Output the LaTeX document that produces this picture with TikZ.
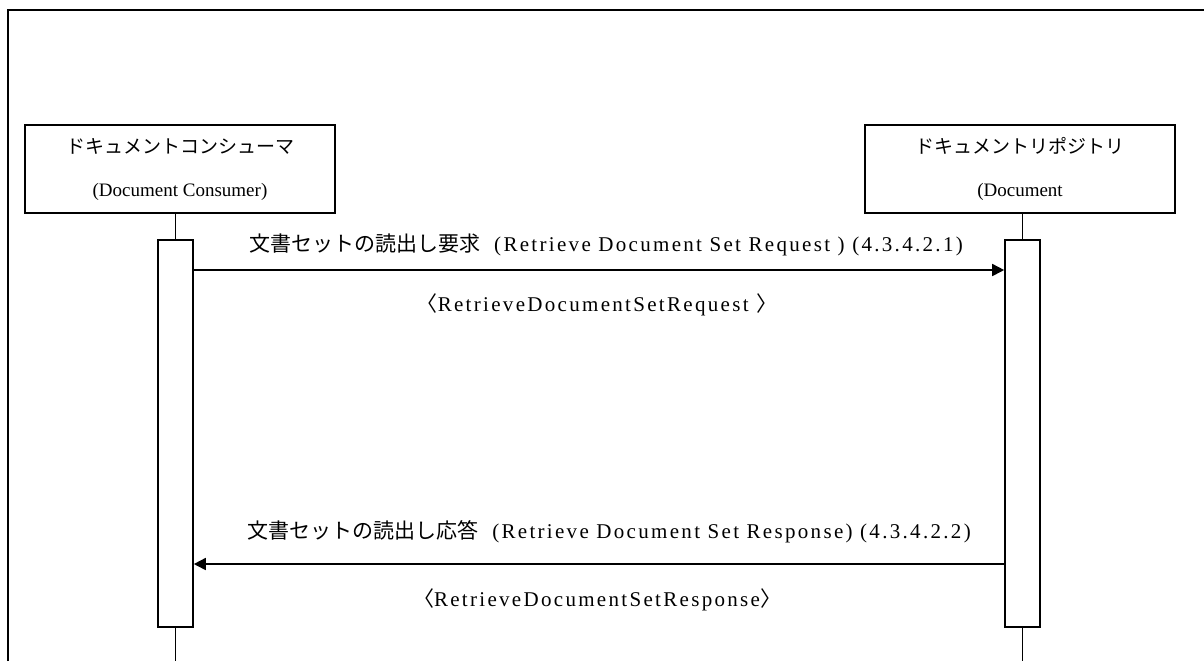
\documentclass[tikz,border=0pt]{standalone}
\usepackage{fontspec}
\setmainfont{Liberation Serif}
\newfontfamily\jp{Noto Sans CJK JP}
\newfontfamily\msgfont[LetterSpace=11]{Liberation Serif}
\usetikzlibrary{arrows.meta,positioning}

\begin{document}
\begin{tikzpicture}[x=0.5pt,y=-0.5pt,
    actor/.style={draw, line width=1pt, minimum width=155pt, minimum height=44pt,
        align=center, inner sep=0pt, font=\fontsize{9.5}{21.5}\selectfont},
    activation/.style={draw, line width=0.8pt, minimum width=17.5pt,
        minimum height=193.5pt, inner sep=0pt},
    msg/.style={-{Triangle[length=6pt,width=6pt]}, line width=0.8pt},
    msglabel/.style={font=\fontsize{10.5}{12}\selectfont\msgfont, inner sep=0pt}
]
    \useasboundingbox (0,0) rectangle (1204,661);

    % Frame
    \draw[line width=1pt] (8,661) -- (8,10) -- (1204,10);

    % Actors
    \node[actor] (consumer) at (180,169) {{\jp ドキュメントコンシューマ}\\(Document Consumer)};
    \node[actor] (repository) at (1020,169) {{\jp ドキュメントリポジトリ}\\(Document};

    % Activations
    \node[activation] (actC) at (175.5,433.5) {};
    \node[activation] (actR) at (1022.5,433.5) {};

    % Lifelines
    \coordinate (bottom) at (0,661);
    \draw[line width=0.7pt] (actC.north) -- (actC.north |- consumer.south);
    \draw[line width=0.7pt] (actR.north) -- (actR.north |- repository.south);
    \draw[line width=0.7pt] (actC.south) -- (actC.south |- bottom);
    \draw[line width=0.7pt] (actR.south) -- (actR.south |- bottom);

    % Messages
    \coordinate (m1) at (0,270);
    \coordinate (m2) at (0,564);
    \draw[msg] (actC.east |- m1) -- (actR.west |- m1);
    \draw[msg] (actR.west |- m2) -- (actC.east |- m2);

    \node[msglabel] (req) at (606,245) {{\jp 文書セットの読出し要求}\hspace{7pt}(Retrieve Document Set Request ) (4.3.4.2.1)};
    \node[msglabel] (reqdoc) at (597,305) {{\jp 〈}RetrieveDocumentSetRequest {\jp 〉}};
    \node[msglabel] (res) at (609,532) {{\jp 文書セットの読出し応答}\hspace{7pt}(Retrieve Document Set Response) (4.3.4.2.2)};
    \node[msglabel] (resdoc) at (597,600) {{\jp 〈}RetrieveDocumentSetResponse{\jp 〉}};
\end{tikzpicture}
\end{document}
